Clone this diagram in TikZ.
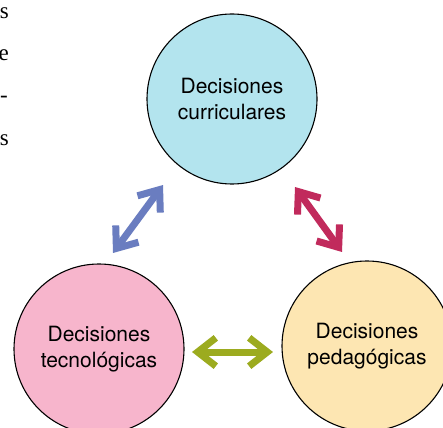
\documentclass[tikz,border=0pt]{standalone}
\usepackage{fontspec}
\newfontfamily\helv{TeX Gyre Heros}
\newfontfamily\bodyserif{Liberation Serif}
\usetikzlibrary{calc}
\definecolor{cblue}{HTML}{B3E4EE}
\definecolor{cpink}{HTML}{F7B5CC}
\definecolor{cyellow}{HTML}{FDE6B2}
\definecolor{ablue}{HTML}{6A7DC0}
\definecolor{ared}{HTML}{C12A5C}
\definecolor{agreen}{HTML}{9CAB1F}
\newcommand\dblarr[3]{%
  \coordinate (#1v) at ($(#1)!5.7pt!(#2)$);
  \coordinate (#2v) at ($(#2)!5.7pt!(#1)$);
  \draw[arr,#3] (#1v) -- (#2v);
  \draw[arr,#3] ($(#1v)!23pt!38:(#2)$) -- (#1v) -- ($(#1v)!23pt!-38:(#2)$);
  \draw[arr,#3] ($(#2v)!23pt!38:(#1)$) -- (#2v) -- ($(#2v)!23pt!-38:(#1)$);
}
\begin{document}
\begin{tikzpicture}[x=1pt,y=-1pt,
  circ/.style={circle, draw=black, line width=1.1pt, minimum size=170pt, inner sep=0pt,
    align=center, font=\helv\fontsize{21}{26}\selectfont},
  frag/.style={anchor=base east, inner sep=0pt, font=\bodyserif\fontsize{23}{23}\selectfont},
  arr/.style={line width=7pt, line join=miter, line cap=butt}]
\useasboundingbox (0,0) rectangle (443,427);
\clip (0,0) rectangle (443,427);
\fill[white] (0,0) rectangle (443,427);
% text fragments of the neighbouring column
\node[frag] (f1) at (9,19) {s};
\node[frag] (f2) at (9,61) {e};
\node[frag] (f3) at (8,103) {-};
\node[frag] (f4) at (9,146) {s};
% circles
\node[circ, fill=cblue] (cur) at (232,99) {Decisiones\\curriculares};
\node[circ, fill=cpink] (tec) at (99,349) {Decisiones\\tecnológicas};
\node[circ, fill=cyellow] (ped) at (367,346) {Decisiones\\pedagógicas};
% arrow ends
\coordinate (b1) at (113,253);
\coordinate (b2) at (163,185);
\coordinate (r1) at (295,187);
\coordinate (r2) at (342,252);
\coordinate (g1) at (192,352);
\coordinate (g2) at (273,352);
\dblarr{b1}{b2}{ablue}
\dblarr{r1}{r2}{ared}
\dblarr{g1}{g2}{agreen}
\end{tikzpicture}
\end{document}
